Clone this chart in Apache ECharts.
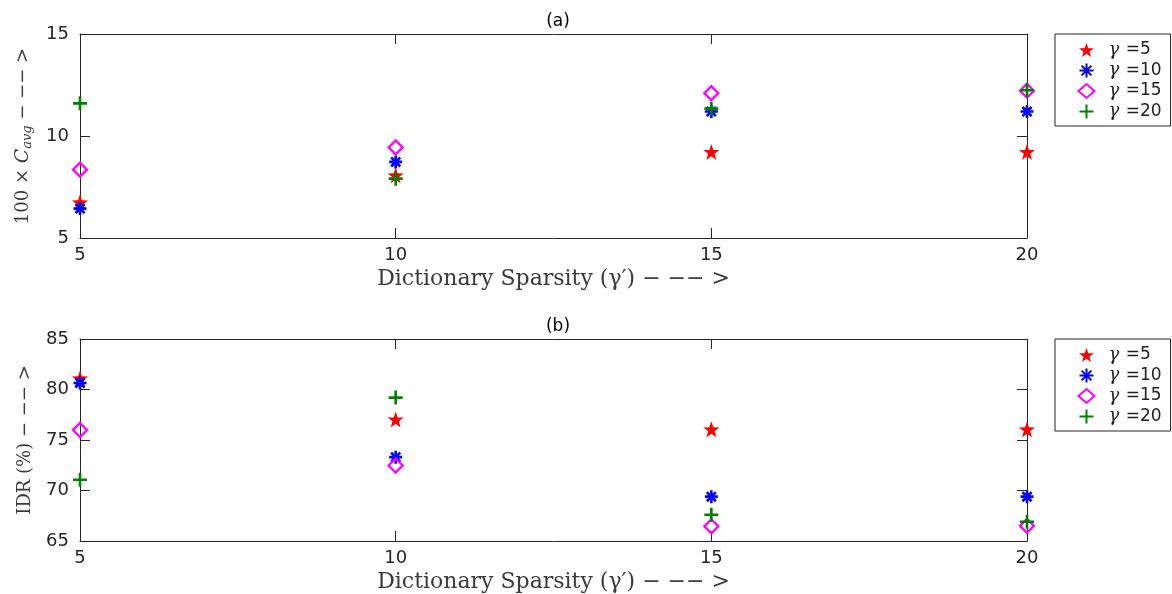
<!DOCTYPE html>
<html>
<head>
<meta charset="utf-8">
<script src="https://cdn.jsdelivr.net/npm/echarts@6/dist/echarts.min.js"></script>
<style>
html,body{margin:0;padding:0;background:#fff;}
#chart{width:1172px;height:594px;}
</style>
</head>
<body>
<div id="chart"></div>
<script>
// Dictionary sparsity values (x axis)
const sparsity = [5, 10, 15, 20];
const seriesNames = ['γ =5', 'γ =10', 'γ =15', 'γ =20'];

// (a) 100 x C_avg for each gamma
const cavg_g5  = [6.75, 8.07, 9.22, 9.22];
const cavg_g10 = [6.44, 8.73, 11.2, 11.2];
const cavg_g15 = [8.35, 9.44, 12.1, 12.22];
const cavg_g20 = [11.6, 7.91, 11.34, 12.24];

// (b) IDR (%) for each gamma
const idr_g5  = [81.1, 77.04, 76.06, 76.06];
const idr_g10 = [80.65, 73.3, 69.39, 69.39];
const idr_g15 = [75.99, 72.47, 66.45, 66.5];
const idr_g20 = [71.06, 79.2, 67.6, 66.9];

// marker shapes
function starPath() {
  let d = '';
  for (let i = 0; i < 10; i++) {
    const r = i % 2 === 0 ? 10 : 4;
    const a = -Math.PI / 2 + i * Math.PI / 5;
    const x = (10 + r * Math.cos(a)).toFixed(3);
    const y = (10 + r * Math.sin(a)).toFixed(3);
    d += (i === 0 ? 'M' : 'L') + x + ',' + y + ' ';
  }
  return 'path://' + d + 'Z';
}
const STAR = starPath();
const ASTER = 'path://M0,5L10,5M5,0L5,10M1.5,1.5L8.5,8.5M1.5,8.5L8.5,1.5';
const PLUS = 'path://M0,5L10,5M5,0L5,10';

const markerStyles = [
  { symbol: STAR, symbolSize: 16, itemStyle: { color: '#ff0000', borderWidth: 0, opacity: 1 } },
  { symbol: ASTER, symbolSize: 13, itemStyle: { color: 'none', borderColor: '#0000ff', borderWidth: 2.6, opacity: 1 } },
  { symbol: 'diamond', symbolSize: 14, itemStyle: { color: 'rgba(255,255,255,0)', borderColor: '#ff00ff', borderWidth: 2.3, opacity: 1 } },
  { symbol: PLUS, symbolSize: 14, itemStyle: { color: 'none', borderColor: '#008000', borderWidth: 2.6, opacity: 1 } }
];

const axisColor = '#262626';
const titleColor = '#3a3a3a';
const serif = '"DejaVu Serif", "Liberation Serif", serif';
const sans = '"DejaVu Sans", "Liberation Sans", sans-serif';

const grids = [
  { left: 80, right: 145, top: 34, height: 204 },
  { left: 80, right: 145, top: 339, height: 203 }
];

const xTitle = 'Dictionary Sparsity (γ′) − −− >';

function xAxes(gi) {
  return [
    {
      type: 'value', gridIndex: gi, position: 'bottom', min: 5, max: 20, interval: 5,
      axisLine: { lineStyle: { color: axisColor, width: 1 } },
      axisTick: { inside: true, length: 10, lineStyle: { color: axisColor } },
      axisLabel: { color: axisColor, fontFamily: sans, fontSize: 18, margin: 8 },
      splitLine: { show: false },
      name: xTitle,
      nameLocation: 'middle', nameGap: 30,
      nameTextStyle: { fontFamily: serif, fontSize: 22, color: titleColor }
    },
    {
      type: 'value', gridIndex: gi, position: 'top', min: 5, max: 20, interval: 5,
      axisLine: { lineStyle: { color: axisColor, width: 1 } },
      axisTick: { inside: true, length: 10, lineStyle: { color: axisColor } },
      axisLabel: { show: false }, splitLine: { show: false }
    }
  ];
}

function yAxes(gi, min, max, nameRich) {
  return [
    {
      type: 'value', gridIndex: gi, position: 'left', min: min, max: max, interval: 5,
      axisLine: { lineStyle: { color: axisColor, width: 1 } },
      axisTick: { inside: true, length: 10, lineStyle: { color: axisColor } },
      axisLabel: { color: axisColor, fontFamily: sans, fontSize: 18, margin: 11 },
      splitLine: { show: false },
      name: nameRich, nameLocation: 'middle', nameGap: 46, nameRotate: 90,
      nameTextStyle: {
        fontFamily: serif, fontSize: 18, color: titleColor,
        rich: {
          it: { fontFamily: serif, fontSize: 19, fontStyle: 'italic', color: titleColor },
          sub: { fontFamily: serif, fontSize: 13, fontStyle: 'italic', color: titleColor, padding: [8, 0, 0, 0] },
          n: { fontFamily: serif, fontSize: 18, color: titleColor }
        }
      }
    },
    {
      type: 'value', gridIndex: gi, position: 'right', min: min, max: max, interval: 5,
      axisLine: { lineStyle: { color: axisColor, width: 1 } },
      axisTick: { inside: true, length: 10, lineStyle: { color: axisColor } },
      axisLabel: { show: false }, splitLine: { show: false }
    }
  ];
}

function makeSeries(gi, arrays) {
  return arrays.map((vals, i) => Object.assign({
    name: seriesNames[i],
    type: 'scatter',
    xAxisIndex: gi * 2,
    yAxisIndex: gi * 2,
    clip: false,
    z: 5,
    data: sparsity.map((x, k) => [x, vals[k]])
  }, markerStyles[i]));
}

function makeLegend(top) {
  return {
    orient: 'vertical',
    left: 1055, top: top,
    padding: [7, 9, 5, 22],
    itemGap: 2,
    itemWidth: 16, itemHeight: 14,
    borderColor: axisColor, borderWidth: 1,
    data: seriesNames,
    formatter: function (name) {
      return '{g|γ}{t|' + name.slice(1) + '}';
    },
    textStyle: {
      rich: {
        g: { fontFamily: serif, fontStyle: 'italic', fontSize: 18, color: '#222', padding: [0, 1, 0, 9] },
        t: { fontFamily: sans, fontSize: 17, color: '#222' }
      }
    }
  };
}

const chart = echarts.init(document.getElementById('chart'), null, { renderer: 'canvas' });
chart.setOption({
  backgroundColor: '#fff',
  animation: false,
  title: [
    { text: '(a)', left: 553, top: 8, textAlign: 'center', textStyle: { fontFamily: sans, fontSize: 17, fontWeight: 'normal', color: '#000' } },
    { text: '(b)', left: 553, top: 313, textAlign: 'center', textStyle: { fontFamily: sans, fontSize: 17, fontWeight: 'normal', color: '#000' } }
  ],
  legend: [makeLegend(34), makeLegend(339)],
  grid: grids,
  xAxis: xAxes(0).concat(xAxes(1)),
  yAxis: yAxes(0, 5, 15, '{n|100 × }{it|C}{sub|avg}{n| − −− >}').concat(yAxes(1, 65, 85, '{n|IDR (%) − −− >}')),
  series: makeSeries(0, [cavg_g5, cavg_g10, cavg_g15, cavg_g20])
    .concat(makeSeries(1, [idr_g5, idr_g10, idr_g15, idr_g20]))
});
</script>
</body>
</html>
